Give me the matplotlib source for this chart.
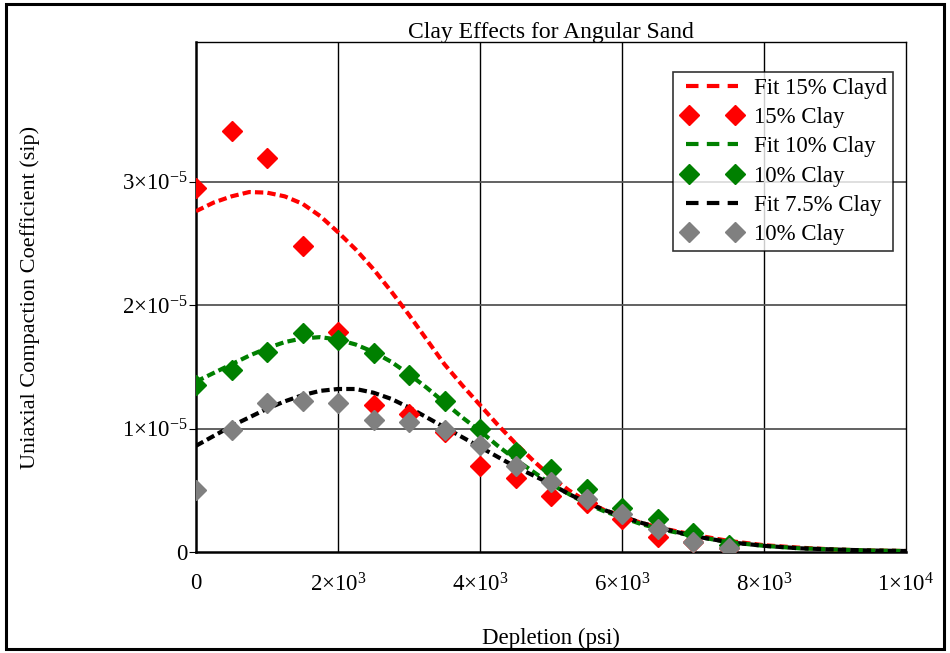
import matplotlib.pyplot as plt
from matplotlib.patches import Rectangle
from matplotlib.ticker import FixedLocator, FixedFormatter
from matplotlib.legend_handler import HandlerLine2D

plt.rcParams['font.family'] = 'Liberation Serif'
plt.rcParams['mathtext.fontset'] = 'custom'
plt.rcParams['mathtext.rm'] = 'Liberation Serif'
plt.rcParams['mathtext.it'] = 'Liberation Serif:italic'

# Data (depletion in psi, coefficient in 1e-5 / psi)
depl_pts = [0, 500, 1000, 1500, 2000, 2500, 3000, 3500, 4000, 4500,
            5000, 5500, 6000, 6500, 7000, 7500]
clay15 = [2.95, 3.41, 3.19, 2.48, 1.78, 1.19, 1.12, 0.97, 0.70, 0.60,
          0.45, 0.40, 0.27, 0.12, 0.08, 0.03]
clay10 = [1.35, 1.47, 1.62, 1.77, 1.72, 1.61, 1.43, 1.22, 1.00, 0.81,
          0.67, 0.51, 0.36, 0.27, 0.15, 0.06]
clay75 = [0.50, 0.99, 1.21, 1.22, 1.21, 1.07, 1.05, 0.99, 0.87, 0.70,
          0.57, 0.43, 0.31, 0.19, 0.08, 0.03]

depl_fit = [0, 250, 500, 750, 1000, 1250, 1500, 1750, 2000, 2250, 2500,
            2750, 3000, 3250, 3500, 3750, 4000, 4250, 4500, 4750, 5000,
            5250, 5500, 5750, 6000, 6250, 6500, 6750, 7000, 7500, 8000,
            8500, 9000, 9500, 10000]
fit15 = [2.76, 2.83, 2.88, 2.915, 2.91, 2.88, 2.82, 2.72, 2.59, 2.45, 2.29,
         2.11, 1.92, 1.72, 1.52, 1.35, 1.19, 1.03, 0.88, 0.74, 0.61,
         0.50, 0.41, 0.34, 0.29, 0.24, 0.20, 0.17, 0.14, 0.09, 0.055,
         0.035, 0.02, 0.012, 0.008]
fit10 = [1.38, 1.45, 1.52, 1.59, 1.65, 1.70, 1.73, 1.74, 1.72, 1.68, 1.62,
         1.54, 1.44, 1.33, 1.21, 1.09, 0.98, 0.86, 0.75, 0.65, 0.55,
         0.47, 0.39, 0.33, 0.28, 0.23, 0.19, 0.16, 0.13, 0.08, 0.05,
         0.03, 0.02, 0.012, 0.008]
fit75 = [0.86, 0.94, 1.02, 1.09, 1.16, 1.22, 1.27, 1.305, 1.32, 1.32, 1.29,
         1.24, 1.17, 1.09, 1.01, 0.93, 0.85, 0.77, 0.69, 0.62, 0.55,
         0.47, 0.40, 0.34, 0.29, 0.24, 0.20, 0.165, 0.13, 0.08, 0.05,
         0.03, 0.02, 0.012, 0.008]

xticks = [0, 2000, 4000, 6000, 8000, 10000]
xlabels = ['0', r'2$\times$10$^{3}$', r'4$\times$10$^{3}$', r'6$\times$10$^{3}$',
           r'8$\times$10$^{3}$', r'1$\times$10$^{4}$']
yticks = [0, 1e-5, 2e-5, 3e-5]
ylabels = ['0', r'1$\times$10$^{-5}$', r'2$\times$10$^{-5}$', r'3$\times$10$^{-5}$']

scale = 1e-5

fig = plt.figure(figsize=(9.5, 6.53), dpi=100)
ax = fig.add_axes([196/950, 1 - 552/653, 710/950, 510/653])

# outer frame of the whole picture
fig.patches.append(Rectangle((0.006, 0.006), 0.988, 0.988, transform=fig.transFigure,
                             fill=False, edgecolor='black', linewidth=2.2))

dash = (2.0, 1.0)
l1, = ax.plot(depl_fit, [v * scale for v in fit15], color='red', lw=3, dashes=dash,
              label='Fit 15% Clayd', zorder=3)
m1, = ax.plot(depl_pts, [v * scale for v in clay15], 'D', color='red', ms=10, mec='red',
              label='15% Clay', zorder=4)
l2, = ax.plot(depl_fit, [v * scale for v in fit10], color='green', lw=3, dashes=dash,
              label='Fit 10% Clay', zorder=3)
m2, = ax.plot(depl_pts, [v * scale for v in clay10], 'D', color='green', ms=10, mec='green',
              label='10% Clay', zorder=4)
l3, = ax.plot(depl_fit, [v * scale for v in fit75], color='black', lw=3, dashes=dash,
              label='Fit 7.5% Clay', zorder=3)
m3, = ax.plot(depl_pts, [v * scale for v in clay75], 'D', color='gray', ms=10, mec='gray',
              label='10% Clay', zorder=4)

ax.set_xlim(0, 10000)
ax.set_ylim(0, 4.13e-5)

ax.xaxis.set_major_locator(FixedLocator(xticks))
ax.xaxis.set_major_formatter(FixedFormatter(xlabels))
ax.yaxis.set_major_locator(FixedLocator(yticks))
ax.yaxis.set_major_formatter(FixedFormatter(ylabels))
ax.tick_params(axis='x', labelsize=16.5, pad=15, length=0)
ax.tick_params(axis='y', labelsize=16.5, pad=1, length=5, direction='out')

# grid
for xv in xticks[1:-1]:
    ax.axvline(xv, color='black', lw=1, zorder=1)
for yv in yticks[1:]:
    ax.axhline(yv, color='#555555', lw=1.3, zorder=1)

for side in ['top', 'right']:
    ax.spines[side].set_linewidth(1.0)
for side in ['left', 'bottom']:
    ax.spines[side].set_linewidth(1.8)

ax.set_title('Clay Effects for Angular Sand', fontsize=17, y=1.0, pad=3)
ax.set_xlabel('Depletion (psi)', fontsize=16.5)
ax.xaxis.set_label_coords(0.5, -0.148)
ax.set_ylabel('Uniaxial Compaction Coefficient (sip)', fontsize=16)
ax.yaxis.set_label_coords(-0.22, 0.5)

mark_handler = HandlerLine2D(numpoints=2, marker_pad=0.45)
leg = ax.legend(loc='upper right', bbox_to_anchor=(0.982, 0.941), numpoints=2,
                fontsize=16.5, frameon=True, fancybox=False, handlelength=2.9,
                handletextpad=0.4, labelspacing=0.36, borderpad=0.25, borderaxespad=0,
                handler_map={m1: mark_handler, m2: mark_handler, m3: mark_handler})
leg.get_frame().set_edgecolor('black')
leg.get_frame().set_linewidth(1.2)
for h in leg.get_lines():
    if h.get_linestyle() != 'None':
        h.set_dashes((3, 2))

fig.savefig('out.png', dpi=100)
